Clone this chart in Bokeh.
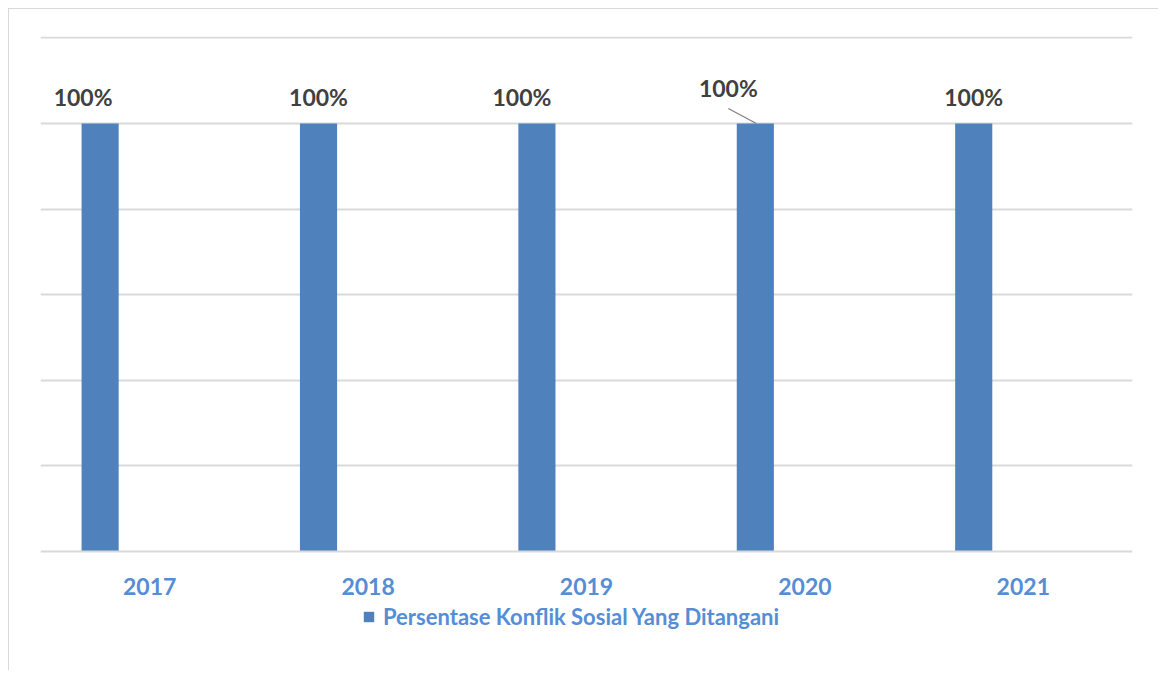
from bokeh.plotting import figure
from bokeh.models import (ColumnDataSource, FactorRange, Legend, LegendItem,
                          FixedTicker, LabelSet)
from bokeh.transform import dodge
from bokeh.core.properties import value
from bokeh.embed import file_html
from bokeh.resources import INLINE

years = ["2017", "2018", "2019", "2020", "2021"]
values = [1.0, 1.0, 1.0, 1.0, 1.0]
labels = ["100%", "100%", "100%", "100%", "100%"]
series_name = "Persentase Konflik Sosial Yang Ditangani"

# label placement tweaks (style only, screen pixels)
label_dx = [-17, 0, -15, -27, 0]
label_dy = [26, 26, 26, 35, 26]

BAR = "#4F81BD"
BLUE_TXT = "#558ED5"
GRID = "#D9D9D9"
FONT = "Lato"
YMAX = 1.203
YMIN = -0.2195

src = ColumnDataSource(dict(year=years, val=values, lab=labels,
                            dx=label_dx, dy=label_dy))

p = figure(width=1150, height=662, x_range=FactorRange(*years), y_range=(YMIN, YMAX),
           output_backend="svg", toolbar_location=None,
           min_border_left=31, min_border_right=27, min_border_top=27,
           min_border_bottom=26)
p.x_range.range_padding = 0
p.styles = {"margin-left": "8px", "margin-top": "8px",
            "border-top": "1px solid #D9D9D9", "border-left": "1px solid #D9D9D9"}
p.outline_line_color = None
p.background_fill_color = "white"

r = p.vbar(x=dodge("year", -0.227, range=p.x_range), top="val", width=0.17,
           source=src, fill_color=BAR, line_color=None)

# leader line for 2020 label
px_per_unit_y = 514 / 1.2
px_per_cat = 1092 / 5
i20 = years.index("2020")
p.segment(x0=[(years[i20], -0.227 - 27 / px_per_cat)],
          y0=[values[i20] + 15 / px_per_unit_y],
          x1=[(years[i20], -0.227 + 1 / px_per_cat)],
          y1=[values[i20]], line_color="#7F7F7F", line_width=1.2)

lbl = LabelSet(x=dodge("year", -0.227, range=p.x_range), y="val", text="lab",
               x_offset="dx", y_offset="dy", source=src,
               text_align="center", text_baseline="middle",
               text_font=value(FONT), text_font_style="bold",
               text_font_size="23px", text_color="#404040")
p.add_layout(lbl)

p.yaxis.visible = False
p.ygrid.ticker = FixedTicker(ticks=[0.2, 0.4, 0.6, 0.8, 1.0, 1.2])
p.ygrid.grid_line_color = GRID
p.ygrid.grid_line_width = 2
p.xgrid.grid_line_color = None

ax = p.xaxis[0]
ax.fixed_location = 0
ax.axis_line_color = GRID
ax.axis_line_width = 2
ax.major_tick_line_color = None
ax.minor_tick_line_color = None
ax.major_label_standoff = 20
ax.major_label_text_font = FONT
ax.major_label_text_font_style = "bold"
ax.major_label_text_font_size = "23px"
ax.major_label_text_color = BLUE_TXT

legend = Legend(items=[LegendItem(label=series_name, renderers=[r])],
                location=(322, 15), orientation="horizontal",
                border_line_color=None, background_fill_alpha=0,
                padding=0, margin=0, glyph_width=13, glyph_height=13,
                label_text_font=FONT, label_text_font_style="bold",
                label_text_font_size="22px", label_text_color=BLUE_TXT,
                label_standoff=8)
p.add_layout(legend)

open("out.html", "w").write(file_html(p, INLINE))
